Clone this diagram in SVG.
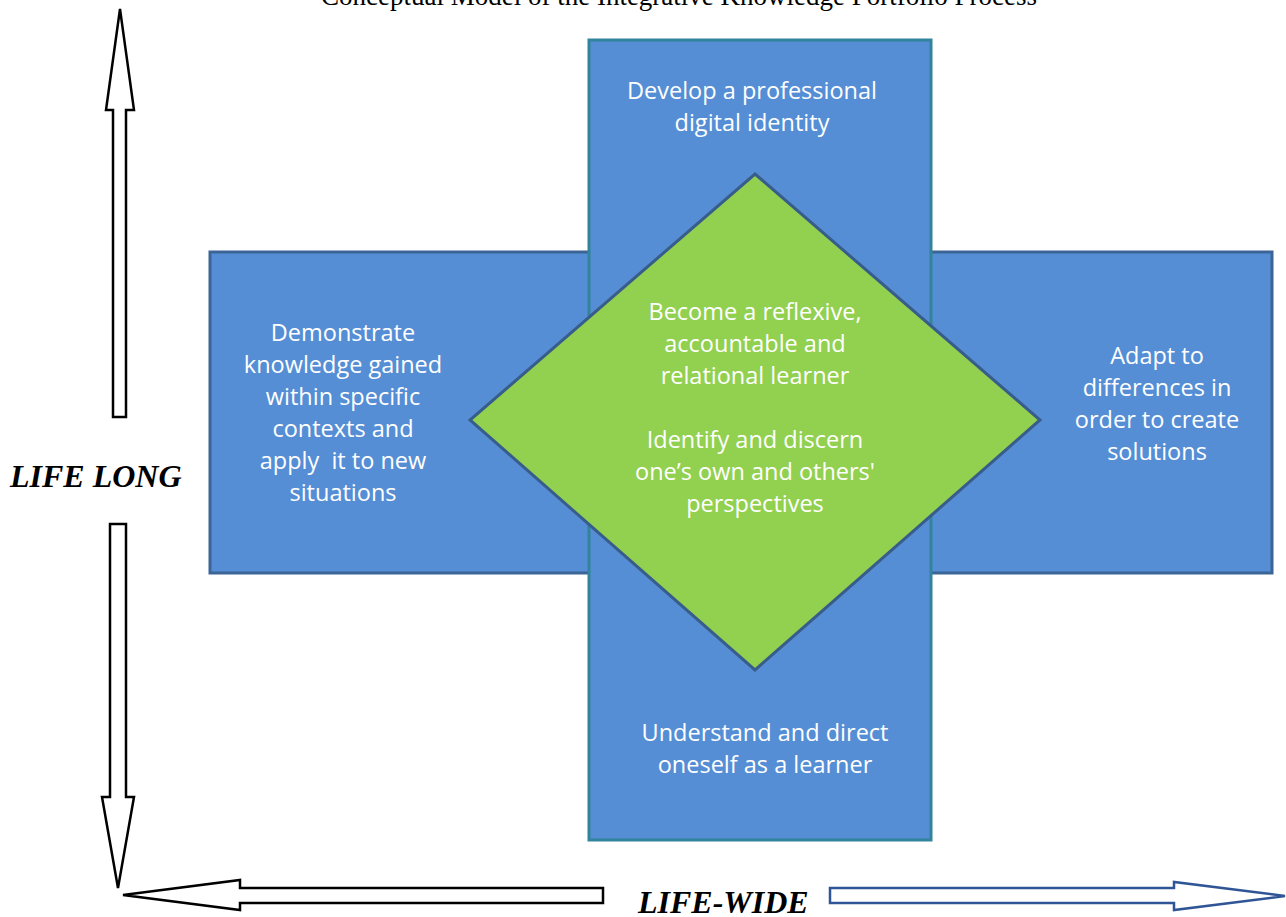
<svg xmlns="http://www.w3.org/2000/svg" width="1286" height="917" viewBox="0 0 1286 917">
<style>
.box{fill:#558ED5;}
.lbl{font-family:"Open Sans","Liberation Sans",sans-serif;font-size:23.5px;fill:#FFFFFF;text-anchor:middle;}
.big{font-family:"Liberation Serif",serif;font-size:32px;font-weight:bold;font-style:italic;fill:#000;}
.arr{fill:#FFFFFF;stroke:#000;stroke-width:2.5;stroke-linejoin:miter;}
.arrb{fill:#FFFFFF;stroke:#2F5597;stroke-width:2.5;stroke-linejoin:miter;}
</style>
<rect width="1286" height="917" fill="#FFFFFF"/>
<text id="title" x="679" y="5" font-family="Liberation Serif, serif" font-size="27" text-anchor="middle" fill="#000">Conceptual Model of the Integrative Knowledge Portfolio Process</text>
<g id="horizontal">
<rect class="box" x="210" y="252" width="1062" height="321" stroke="#3B6596" stroke-width="3"/>
</g>
<g id="vertical">
<rect class="box" x="589" y="40" width="342" height="800" stroke="#31849B" stroke-width="3"/>
</g>
<g id="diamond">
<polygon points="755,174 1040,420 755,670 470,420" fill="#92D050" stroke="#385D8A" stroke-width="3"/>
</g>
<g id="top-text">
<text class="lbl" x="752" y="99">Develop a professional</text>
<text class="lbl" x="752" y="131">digital identity</text>
</g>
<g id="left-text">
<text class="lbl" x="343" y="341">Demonstrate</text>
<text class="lbl" x="343" y="373">knowledge gained</text>
<text class="lbl" x="343" y="405">within specific</text>
<text class="lbl" x="343" y="437">contexts and</text>
<text class="lbl" x="343" y="469" xml:space="preserve">apply  it to new</text>
<text class="lbl" x="343" y="501">situations</text>
</g>
<g id="right-text">
<text class="lbl" x="1157" y="364">Adapt to</text>
<text class="lbl" x="1157" y="396">differences in</text>
<text class="lbl" x="1157" y="428">order to create</text>
<text class="lbl" x="1157" y="460">solutions</text>
</g>
<g id="center-text">
<text class="lbl" x="755" y="320">Become a reflexive,</text>
<text class="lbl" x="755" y="352">accountable and</text>
<text class="lbl" x="755" y="384">relational learner</text>
<text class="lbl" x="755" y="448">Identify and discern</text>
<text class="lbl" x="755" y="480">one’s own and others'</text>
<text class="lbl" x="755" y="512">perspectives</text>
</g>
<g id="bottom-text">
<text class="lbl" x="765" y="741">Understand and direct</text>
<text class="lbl" x="765" y="773">oneself as a learner</text>
</g>
<g id="connectors">
<polygon class="arr" points="120,9 134,110 126,110 126,417 113,417 113,110 106,110"/>
<polygon class="arr" points="110,524 126,524 126,797 134,797 118,888 102,797 110,797"/>
<polygon class="arr" points="123,895 240,880 240,888 603,888 603,903 240,903 240,910"/>
<polygon class="arrb" points="830,888 1174,888 1174,882 1285,896 1174,910 1174,903 830,903"/>
</g>
<g id="axis-labels">
<text class="big" x="10" y="487">LIFE LONG</text>
<text class="big" x="638" y="913">LIFE-WIDE</text>
</g>
</svg>
